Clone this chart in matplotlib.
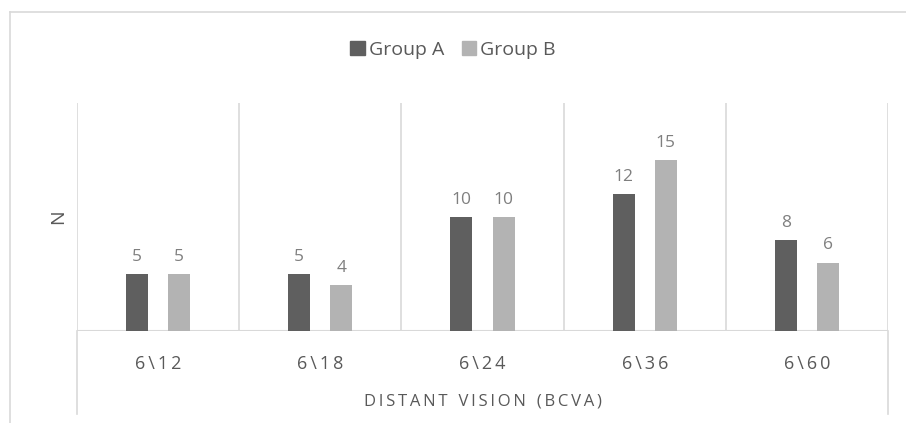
import matplotlib.pyplot as plt
from matplotlib.lines import Line2D
from matplotlib.patches import Patch
import numpy as np

# ------------------------------------------------------------
# Data
# ------------------------------------------------------------
categories = ["6\\12", "6\\18", "6\\24", "6\\36", "6\\60"]
group_a = [5, 5, 10, 12, 8]
group_b = [5, 4, 10, 15, 6]
series_names = ["Group A", "Group B"]

COLOR_A = "#5f5f5f"
COLOR_B = "#b3b3b3"
TEXT = "#595959"
GRID = "#d9d9d9"


def spaced(s, gap="\u2009"):
    # wide letter spacing like the office chart style
    return gap.join(s).replace(gap + " " + gap, gap * 4)


plt.rcParams["font.family"] = ["Open Sans", "DejaVu Sans"]

fig = plt.figure(figsize=(9.06, 4.23), dpi=100)
W, H = 906, 423
left, right, top, bottom = 77, 888, 103, 331
ax = fig.add_axes([left / W, 1 - bottom / H, (right - left) / W, (bottom - top) / H])

x = np.arange(len(categories))
width = 0.136
offset = 0.13
bars_a = ax.bar(x - offset, group_a, width, color=COLOR_A, zorder=3)
bars_b = ax.bar(x + offset, group_b, width, color=COLOR_B, zorder=3)

for bars, vals in ((bars_a, group_a), (bars_b, group_b)):
    for b, v in zip(bars, vals):
        ax.text(b.get_x() + b.get_width() / 2, v + 0.8, str(v),
                ha="center", va="bottom", fontsize=12.5, color="#7f7f7f")

ax.set_xlim(-0.5, len(categories) - 0.5)
ax.set_ylim(0, 20)

# category dividers
ax.vlines(np.arange(-0.5, len(categories)), 0, 20, color=GRID, lw=1.2, zorder=1)
ax.axhline(0, color=GRID, lw=1.5, zorder=2)

# outer lines of the category axis box
ext = (bottom - 414) / (bottom - top)
for xv in (-0.5, len(categories) - 0.5):
    ax.plot([xv, xv], [0, ext], color=GRID, lw=1.2, clip_on=False,
            transform=ax.get_xaxis_transform())

for s in ax.spines.values():
    s.set_visible(False)
ax.set_yticks([])
ax.set_xticks(x)
ax.set_xticklabels([spaced(c) for c in categories], fontsize=13, color=TEXT)
ax.tick_params(axis="x", length=0, pad=17)

ax.set_xlabel(spaced("DISTANT VISION (BCVA)"), fontsize=12, color=TEXT, labelpad=15)
fig.text(58 / W, 1 - 217 / H, "N", rotation=90, ha="center", va="center",
         fontsize=14, color=TEXT)

# legend
handles = [Patch(color=COLOR_A), Patch(color=COLOR_B)]
fig.legend(handles, series_names, loc="center", bbox_to_anchor=(0.5, 1 - 50 / H),
           ncol=2, frameon=False, fontsize=14, handlelength=0.75, handleheight=0.75,
           handletextpad=0.2, columnspacing=0.9, labelcolor=TEXT)

# chart border
fig.add_artist(Line2D([9.5 / W, 9.5 / W], [0, 1 - 12 / H], color=GRID, lw=1.2))
fig.add_artist(Line2D([9.5 / W, 1], [1 - 12 / H, 1 - 12 / H], color=GRID, lw=1.2))

fig.savefig("out.png", dpi=100, facecolor="white")
